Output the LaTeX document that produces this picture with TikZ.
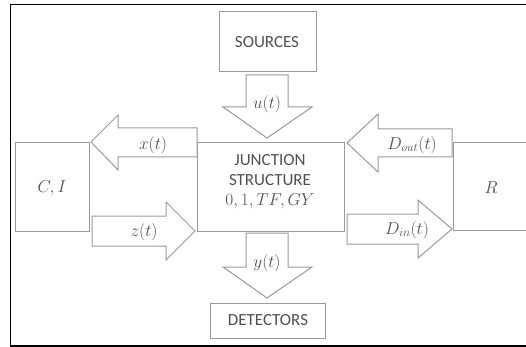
\documentclass[tikz,border=0pt]{standalone}
\usepackage{fontspec}
\setmainfont{Carlito}
\begin{document}
\begin{tikzpicture}[x=1pt,y=-1pt,
  box/.style={draw=linegray,line width=1pt},
  blk/.style={draw=linegray,line width=1pt,fill=white},
  lbl/.style={text=textgray,font=\fontsize{17}{20}\selectfont,inner sep=0pt},
  mlbl/.style={text=textgray,font=\fontsize{17}{20}\selectfont,inner sep=0pt}]
\definecolor{linegray}{HTML}{9A9A9A}
\definecolor{textgray}{HTML}{505050}
\useasboundingbox (0,0) rectangle (526,347);
% frame
\draw[black,line width=1.6pt] (526,4.5) -- (10.5,4.5) -- (10.5,346) -- (526,346);
% boxes
\draw[box] (219,12) rectangle (316,72);
\node[lbl] (src) at (267,42) {SOURCES};
\draw[box] (197,143) rectangle (344,231);
\node[lbl,align=center,font=\fontsize{17}{20}\selectfont] (junc) at (270,182) {JUNCTION\\STRUCTURE\\$0,1,TF,GY$};
\draw[box] (15,143) rectangle (89,231);
\node[mlbl] (ci) at (52,188) {$C,I$};
\draw[box] (526,143) -- (453,143) -- (453,230) -- (526,230);
\node[mlbl] (r) at (491,188) {$R$};
\draw[box] (210,303) rectangle (325,338);
\node[lbl] (det) at (268,320) {DETECTORS};
% u(t)
\draw[blk] (246,75) -- (288,75) -- (288,107) -- (312,107) -- (267,138) -- (223,107) -- (246,107) -- cycle;
\node[mlbl] (u) at (267,104) {$u(t)$};
% y(t)
\draw[blk] (246,233) -- (288,233) -- (288,267) -- (312,267) -- (267,298) -- (223,267) -- (246,267) -- cycle;
\node[mlbl] (y) at (267,263) {$y(t)$};
% x(t)
\draw[blk] (197,128) -- (118,128) -- (118,115) -- (91,142) -- (118,170) -- (118,157) -- (197,157) -- cycle;
\node[mlbl] (xl) at (153,145) {$x(t)$};
% z(t)
\draw[blk] (92,216) -- (166,216) -- (166,202) -- (195,231) -- (166,260) -- (166,246) -- (92,246) -- cycle;
\node[mlbl] (zl) at (144,232) {$z(t)$};
% D_out
\draw[blk] (452,129) -- (378,129) -- (378,114) -- (347,143) -- (378,172) -- (378,157) -- (452,157) -- cycle;
\node[mlbl] (dout) at (412,145) {$D_{out}(t)$};
% D_in
\draw[blk] (347,214) -- (418,214) -- (418,200) -- (452,229) -- (418,258) -- (418,244) -- (347,244) -- cycle;
\node[mlbl] (din) at (407,230) {$D_{in}(t)$};
\end{tikzpicture}
\end{document}
